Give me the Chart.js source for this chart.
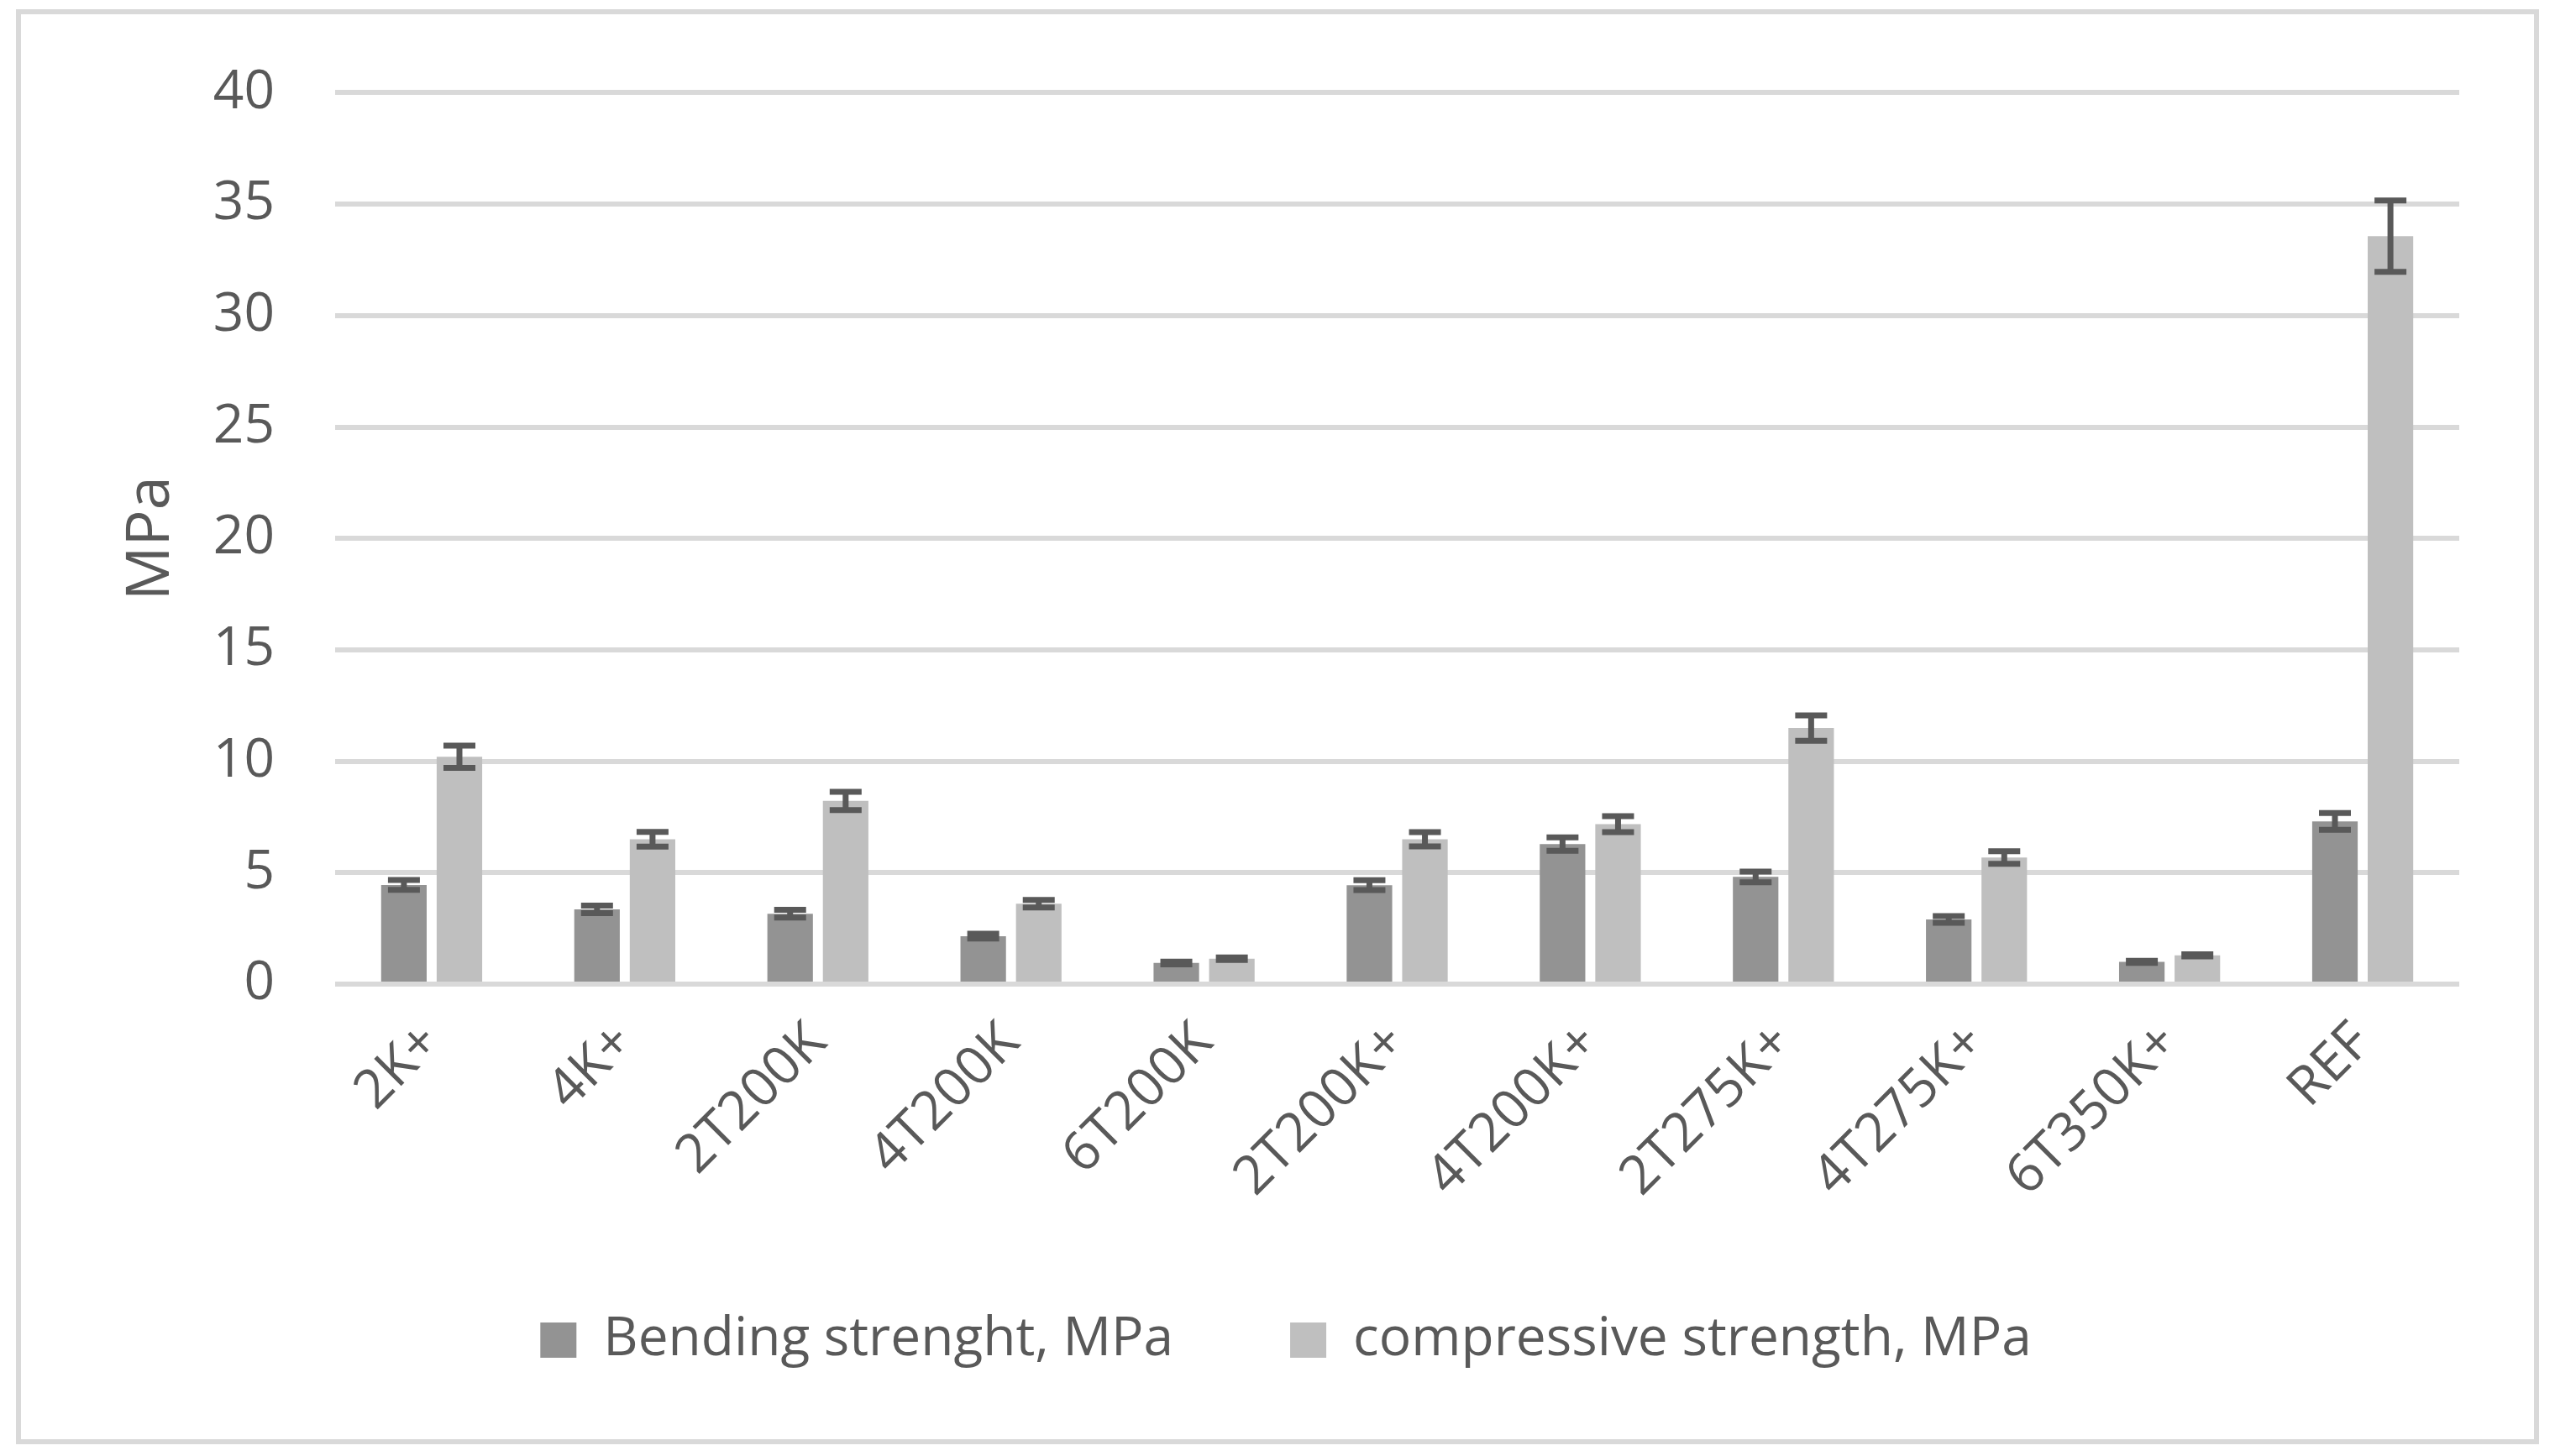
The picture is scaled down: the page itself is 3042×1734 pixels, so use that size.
<!DOCTYPE html>
<html>
<head>
<meta charset="utf-8">
<title>Bending / compressive strength</title>
<script src="https://cdn.jsdelivr.net/npm/chart.js@4.4.1/dist/chart.umd.min.js"></script>
<style>
    html, body { margin: 0; padding: 0; background: #fff; }
    #wrap { position: relative; width: 3042px; height: 1734px; }
    #strengthChart { position: absolute; left: 0; top: 0; }
    #frame {
        position: absolute; left: 19px; top: 11px;
        width: 3004px; height: 1709px;
        box-sizing: border-box; border: 6px solid #d9d9d9;
        pointer-events: none;
    }
</style>
</head>
<body>
<div id="wrap">
    <canvas id="strengthChart" width="3042" height="1734"></canvas>
    <div id="frame"></div>
</div>
<script>
// ======== DATOS ========
const labels = ['2K+', '4K+', '2T200K', '4T200K', '6T200K', '2T200K+', '4T200K+', '2T275K+', '4T275K+', '6T350K+', 'REF'];

const bending = [4.45, 3.35, 3.16, 2.15, 0.95, 4.44, 6.28, 4.81, 2.9, 1.0, 7.3];
const bendingErr = [0.22, 0.17, 0.17, 0.11, 0.06, 0.22, 0.3, 0.24, 0.15, 0.05, 0.38];

const compressive = [10.2, 6.5, 8.22, 3.61, 1.14, 6.5, 7.18, 11.49, 5.68, 1.29, 33.56];
const compressiveErr = [0.5, 0.33, 0.41, 0.17, 0.06, 0.32, 0.36, 0.57, 0.28, 0.05, 1.6];

const yTicks = [0, 5, 10, 15, 20, 25, 30, 35, 40];

const TEXT = '#595959';
const FONT = "'Open Sans', 'Liberation Sans', sans-serif";

// ======== ERROR BARS (plugin propio) ========
const errorBars = {
    id: 'errorBars',
    afterDatasetsDraw(chart) {
        const ctx = chart.ctx;
        const yScale = chart.scales.y;
        ctx.save();
        ctx.strokeStyle = '#595959';
        ctx.lineWidth = 7;
        ctx.lineCap = 'butt';
        chart.data.datasets.forEach((ds, di) => {
            const meta = chart.getDatasetMeta(di);
            meta.data.forEach((bar, i) => {
                const v = ds.data[i], e = ds.errors[i];
                const top = yScale.getPixelForValue(v + e);
                const bot = yScale.getPixelForValue(v - e);
                const half = 19;
                ctx.beginPath();
                ctx.moveTo(bar.x, top); ctx.lineTo(bar.x, bot);
                ctx.moveTo(bar.x - half, top); ctx.lineTo(bar.x + half, top);
                ctx.moveTo(bar.x - half, bot); ctx.lineTo(bar.x + half, bot);
                ctx.stroke();
            });
        });
        ctx.restore();
    }
};

// ======== CHART ========
new Chart(document.getElementById('strengthChart'), {
    type: 'bar',
    data: {
        labels: labels,
        datasets: [
            {
                label: 'Bending strenght, MPa',
                data: bending,
                errors: bendingErr,
                backgroundColor: '#939393',
                categoryPercentage: 0.575,
                barPercentage: 0.82
            },
            {
                label: 'compressive strength, MPa',
                data: compressive,
                errors: compressiveErr,
                backgroundColor: '#bfbfbf',
                categoryPercentage: 0.575,
                barPercentage: 0.82
            }
        ]
    },
    options: {
        responsive: false,
        animation: false,
        layout: { padding: { left: 20, right: 0, top: 97, bottom: 96 } },
        plugins: {
            tooltip: { enabled: false },
            legend: {
                position: 'bottom',
                labels: {
                    color: TEXT,
                    font: { family: FONT, size: 64 },
                    boxWidth: 43,
                    boxHeight: 42,
                    padding: 139
                }
            }
        },
        scales: {
            x: {
                grid: { display: false },
                border: { display: false },
                ticks: {
                    color: TEXT,
                    font: { family: FONT, size: 64 },
                    minRotation: 45,
                    maxRotation: 45,
                    padding: 24
                },
                afterFit(s) { s.height = 253; }
            },
            y: {
                min: 0,
                max: 40,
                afterBuildTicks(s) { s.ticks = yTicks.map(v => ({ value: v })); },
                grid: { color: '#d9d9d9', lineWidth: 6, drawTicks: false },
                border: { display: false },
                ticks: {
                    color: TEXT,
                    font: { family: FONT, size: 64 },
                    padding: 72
                },
                title: {
                    display: true,
                    text: 'MPa',
                    color: TEXT,
                    font: { family: FONT, size: 72 },
                    padding: { top: 117, bottom: 0 }
                },
                afterFit(s) { s.width = 379; }
            },
            // eje vacío para reservar el margen derecho
            yRight: {
                position: 'right',
                grid: { display: false },
                border: { display: false },
                ticks: { display: false },
                afterFit(s) { s.width = 114; }
            }
        }
    },
    plugins: [errorBars]
});
</script>
</body>
</html>
